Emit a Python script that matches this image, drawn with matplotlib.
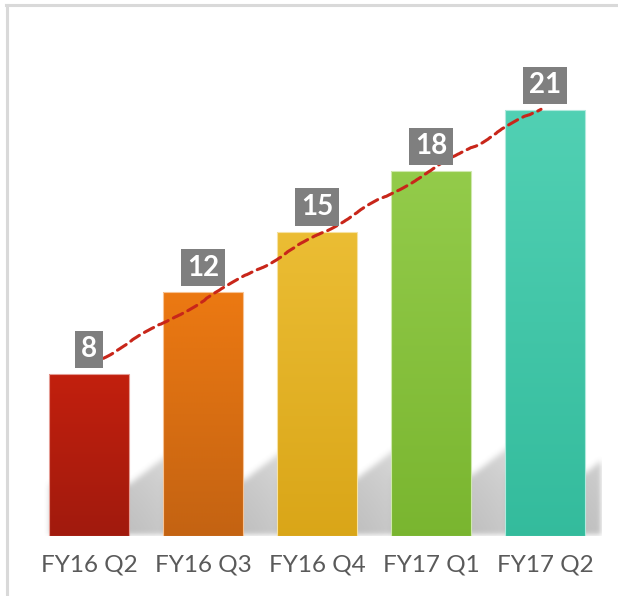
import numpy as np
import matplotlib.pyplot as plt
from matplotlib.lines import Line2D
from matplotlib.colors import to_rgb
from matplotlib.path import Path

# ------------------------------------------------------------
# Data
# ------------------------------------------------------------
quarters = ["FY16 Q2", "FY16 Q3", "FY16 Q4", "FY17 Q1", "FY17 Q2"]
values = [8, 12, 15, 18, 21]
top_colors = ["#C4200E", "#EE7A12", "#ECBE35", "#94CC4B", "#52D1B4"]
bottom_colors = ["#9F1A0D", "#C26212", "#D9A517", "#79B52F", "#33BB9C"]

BAR_W = 0.70
YMAX = 24

fig = plt.figure(figsize=(6.18, 5.96), dpi=100, facecolor="white")
ax = fig.add_axes([32 / 618, 60 / 596, 570 / 618, 487.2 / 596])
ax.set_xlim(-0.5, len(values) - 0.5)
ax.set_ylim(0, YMAX)
for s in ax.spines.values():
    s.set_visible(False)
ax.set_yticks([])

x = np.arange(len(values))

# ------------------------------------------------------------
# Soft drop shadows behind the bars (rasterised, blurred mask)
# ------------------------------------------------------------
ny, nx = 487, 570
gx = np.linspace(-0.5, len(values) - 0.5, nx)
gy = np.linspace(YMAX, 0, ny)
XX, YY = np.meshgrid(gx, gy)
mask = np.zeros((ny, nx))
for i, v in enumerate(values):
    x0 = i - BAR_W / 2
    x1 = i + BAR_W / 2
    d = 0.42
    h0 = 2.2 + 0.04 * v
    h1 = h0 + 1.8
    poly = Path([(x0, 0), (x1, 0), (x1 + d, 0), (x1 + d, h1), (x1, h0), (x0, h0)])
    inside = poly.contains_points(np.c_[XX.ravel(), YY.ravel()]).reshape(ny, nx)
    # fade towards the top and to the right
    fade = (np.clip(1 - YY / (h1 + 1.0), 0, 1) ** 0.25
            * np.clip(1 - (XX - x1) / (d * 1.6), 0, 1) ** 0.25)
    mask = np.maximum(mask, inside * fade)


def box_blur(a, r):
    k = np.ones(2 * r + 1) / (2 * r + 1)
    a = np.apply_along_axis(lambda m: np.convolve(m, k, mode="same"), 0, a)
    a = np.apply_along_axis(lambda m: np.convolve(m, k, mode="same"), 1, a)
    return a


mask = box_blur(box_blur(mask, 3), 3)
shadow = np.zeros((ny, nx, 4))
shadow[..., :3] = 0.5
shadow[..., 3] = np.clip(mask * 0.5, 0, 1)
ax.imshow(shadow, extent=(-0.5, len(values) - 0.5, 0, YMAX), aspect="auto",
          interpolation="bilinear", zorder=1)

# ------------------------------------------------------------
# Gradient-filled bars (gradient image clipped to each bar)
# ------------------------------------------------------------
bars = ax.bar(x, values, width=BAR_W, facecolor="none", edgecolor="none", zorder=2)
for b, ct, cb in zip(bars, top_colors, bottom_colors):
    ct, cb = np.array(to_rgb(ct)), np.array(to_rgb(cb))
    t = np.linspace(0, 1, 256)[:, None]
    grad = (ct * (1 - t) + cb * t)[:, None, :]
    bx, by = b.get_x(), b.get_y()
    bw, bh = b.get_width(), b.get_height()
    im = ax.imshow(grad, extent=(bx - 0.05, bx + bw + 0.05, by - 0.5, by + bh + 0.5),
                   aspect="auto", interpolation="bilinear", zorder=2)
    im.set_clip_path(b)
    edge = tuple(ct * 0.45 + 0.55)
    ax.add_patch(plt.Rectangle((bx, by), bw, bh, fill=False, ec=edge, lw=0.8, zorder=3))
ax.set_xlim(-0.5, len(values) - 0.5)
ax.set_ylim(0, YMAX)

# ------------------------------------------------------------
# Linear trend line
# ------------------------------------------------------------
coef = np.polyfit(x, values, 1)
tx = np.linspace(0, len(values) - 1.04, 50)
trend, = ax.plot(tx, np.polyval(coef, tx), color="#C8261A", lw=2.2,
                 dashes=(3.4, 1.9), zorder=4, dash_capstyle="round")
trend.set_sketch_params(scale=1.3, length=140, randomness=6)

# ------------------------------------------------------------
# Value labels
# ------------------------------------------------------------
for i, v in enumerate(values):
    ax.annotate(str(v), (i, v), xytext=(0, 8.3), textcoords="offset points",
                ha="center", va="bottom", color="white", fontsize=20,
                fontweight="bold", family="Lato", zorder=5,
                bbox=dict(boxstyle="square,pad=0.2", fc="#7F7F7F", ec="none"))

ax.set_xticks(x)
ax.set_xticklabels(quarters, family="Lato", fontsize=17.5, color="#5A5A5A")
ax.tick_params(axis="x", length=0, pad=13)

# frame around the chart area
fig.add_artist(Line2D([6 / 618, 1], [1 - 5 / 596, 1 - 5 / 596],
                      color="#D9D9D9", lw=2.2, transform=fig.transFigure))
fig.add_artist(Line2D([7 / 618, 7 / 618], [0, 1 - 5 / 596],
                      color="#D9D9D9", lw=2.2, transform=fig.transFigure))

fig.savefig("out.png", dpi=100, facecolor="white")
